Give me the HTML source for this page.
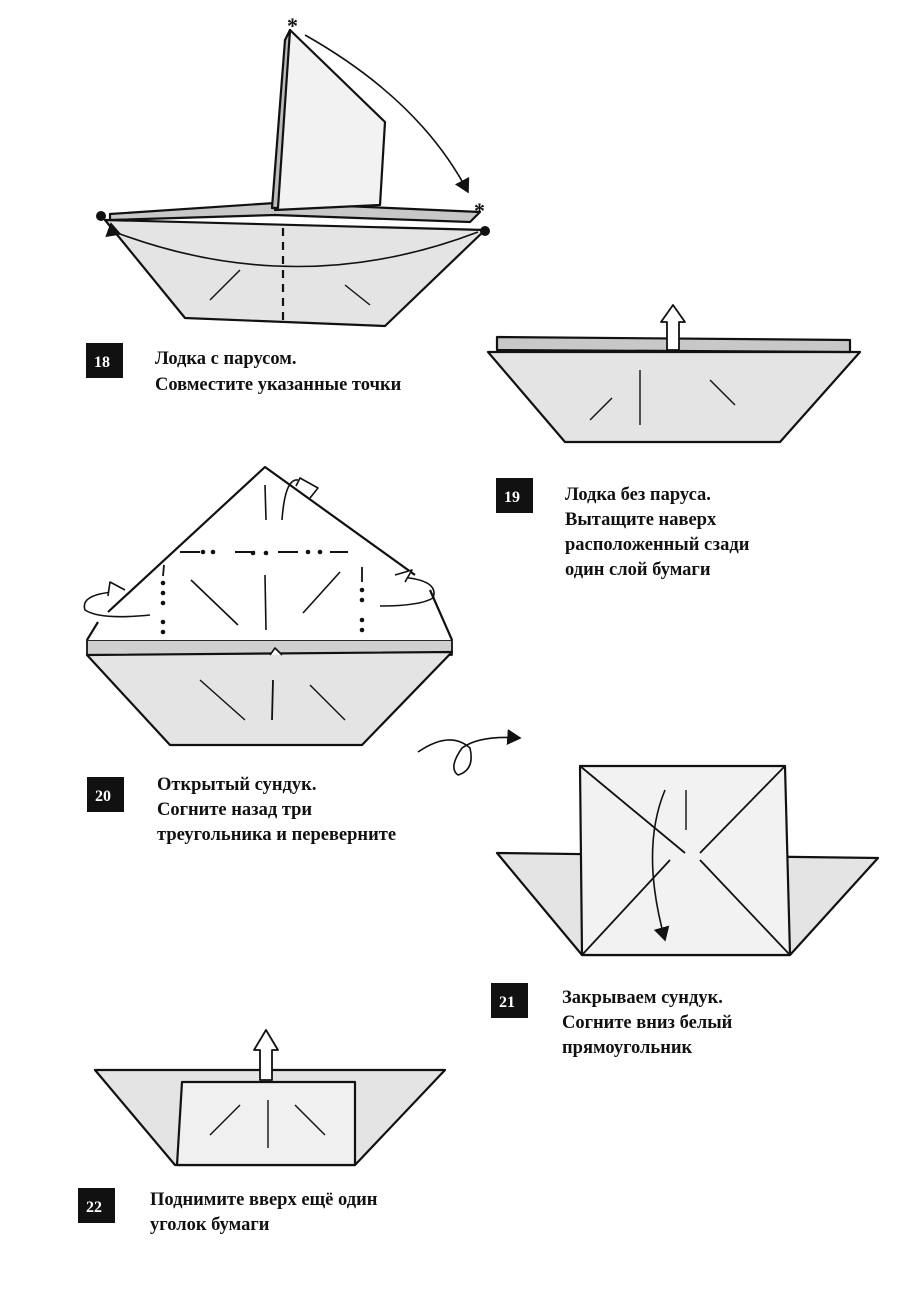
<!DOCTYPE html>
<html><head><meta charset="utf-8"><style>
html,body{margin:0;padding:0;background:#fff;}
svg{display:block}
text{font-family:"Liberation Serif",serif;font-size:18.5px;font-weight:bold;fill:#111;}
.n{fill:#fff;font-weight:bold;font-size:16px;}
</style></head><body>
<svg width="900" height="1308" viewBox="0 0 900 1308" xmlns="http://www.w3.org/2000/svg">
<defs>
<marker id="ah" markerWidth="10" markerHeight="10" refX="8" refY="5" orient="auto"><path d="M0,0 L9,5 L0,10 Z" fill="#111"/></marker>
</defs>
<g stroke="#111" stroke-width="2.2" fill="#e4e4e4" stroke-linejoin="round">
<!-- Fig 18 -->
<polygon points="105,220 485,230 385,326 185,318"/>
<polygon points="110,214 275,203 480,212 470,222 275,215 110,220" fill="#c8c8c8"/>
<polygon points="290,30 385,122 380,205 275,210" fill="#f2f2f2"/>
<polygon points="290,30 285,40 272,208 278,208" fill="#bbb"/>
<line x1="283" y1="228" x2="283" y2="325" stroke-dasharray="8,6" fill="none"/>
<path d="M120,234 Q300,300 478,232" fill="none" stroke-width="1.6" marker-start="url(#ah)"/>
<path d="M305,35 Q420,100 468,192" fill="none" stroke-width="1.6" marker-end="url(#ah)"/>
<line x1="210" y1="300" x2="240" y2="270" stroke-width="1.4"/>
<line x1="345" y1="285" x2="370" y2="305" stroke-width="1.4"/>
<!-- Fig 19 -->
<polygon points="488,352 860,352 780,442 565,442"/>
<polygon points="497,337 850,340 850,352 497,350" fill="#c8c8c8"/>
<line x1="640" y1="370" x2="640" y2="425" stroke-width="1.4"/>
<line x1="590" y1="420" x2="612" y2="398" stroke-width="1.4"/>
<line x1="710" y1="380" x2="735" y2="405" stroke-width="1.4"/>
<polygon points="667,350 667,322 661,322 673,305 685,322 679,322 679,350" fill="#fff" stroke-width="1.8"/>
<!-- Fig 20 -->
<polygon points="87,640 452,640 452,655 87,655" fill="#d0d0d0" stroke-width="1.8"/>
<polygon points="265,467 450,600 452,640 87,640 108,612" fill="#fff" stroke="none"/>
<polyline points="108,612 265,467 415,575" fill="none"/>
<line x1="430" y1="590" x2="452" y2="640"/>
<line x1="98" y1="622" x2="87" y2="640"/>
<polygon points="87,655 452,652 362,745 170,745"/>
<path d="M270,655 L275,648 L282,655" fill="#fff" stroke-width="1.6"/>
<path d="M180,552 H200 M235,552 H255 M278,552 H298 M330,552 H348" fill="none" stroke-width="2"/>
<g fill="#111" stroke="none">
<circle cx="203" cy="552" r="2.3"/><circle cx="213" cy="552" r="2.3"/>
<circle cx="253" cy="553" r="2.3"/><circle cx="266" cy="553" r="2.3"/>
<circle cx="308" cy="552" r="2.3"/><circle cx="320" cy="552" r="2.3"/>
<circle cx="163" cy="583" r="2.3"/><circle cx="163" cy="593" r="2.3"/><circle cx="163" cy="603" r="2.3"/><circle cx="163" cy="622" r="2.3"/><circle cx="163" cy="632" r="2.3"/>
<circle cx="362" cy="590" r="2.3"/><circle cx="362" cy="600" r="2.3"/><circle cx="362" cy="620" r="2.3"/><circle cx="362" cy="630" r="2.3"/>
</g>
<line x1="164" y1="565" x2="163" y2="576" stroke-width="1.8"/>
<line x1="362" y1="567" x2="362" y2="582" stroke-width="1.8"/>
<line x1="265" y1="485" x2="266" y2="520" stroke-width="1.6"/>
<line x1="265" y1="575" x2="266" y2="630" stroke-width="1.6"/>
<line x1="191" y1="580" x2="238" y2="625" stroke-width="1.6"/>
<line x1="340" y1="572" x2="303" y2="613" stroke-width="1.6"/>
<line x1="245" y1="720" x2="200" y2="680" stroke-width="1.4"/>
<line x1="273" y1="680" x2="272" y2="720" stroke-width="1.8"/>
<line x1="310" y1="685" x2="345" y2="720" stroke-width="1.4"/>
<path d="M113,592 Q80,595 85,610 Q100,620 150,615" fill="none" stroke-width="1.6"/>
<path d="M108,596 L110,582 L125,590" fill="#fff" stroke-width="1.6"/>
<path d="M400,577 Q440,580 433,598 Q420,606 380,606" fill="none" stroke-width="1.6"/>
<path d="M395,575 L412,570 L405,582" fill="#fff" stroke-width="1.6"/>
<path d="M282,520 Q285,478 298,480" fill="none" stroke-width="1.6"/>
<path d="M296,486 L300,478 L318,488 L310,498" fill="#fff" stroke-width="1.6"/>
<path d="M418,752 Q450,730 470,748 Q475,770 458,775 Q448,768 462,748 Q480,735 520,738" fill="none" stroke-width="1.6" marker-end="url(#ah)"/>
<!-- Fig 21 -->
<polygon points="497,853 878,858 790,955 582,955"/>
<polygon points="580,766 785,766 790,955 582,955" fill="#f2f2f2"/>
<line x1="580" y1="766" x2="685" y2="853" stroke-width="1.8"/>
<line x1="785" y1="766" x2="700" y2="853" stroke-width="1.8"/>
<line x1="582" y1="955" x2="670" y2="860" stroke-width="1.8"/>
<line x1="790" y1="955" x2="700" y2="860" stroke-width="1.8"/>
<line x1="686" y1="790" x2="686" y2="830" stroke-width="1.4"/>
<path d="M665,790 Q640,850 665,940" fill="none" stroke-width="1.6" marker-end="url(#ah)"/>
<!-- Fig 22 -->
<polygon points="95,1070 445,1070 355,1165 175,1165"/>
<polygon points="182,1082 355,1082 355,1165 177,1165" fill="#f0f0f0"/>
<line x1="268" y1="1100" x2="268" y2="1148" stroke-width="1.4"/>
<line x1="210" y1="1135" x2="240" y2="1105" stroke-width="1.4"/>
<line x1="295" y1="1105" x2="325" y2="1135" stroke-width="1.4"/>
<polygon points="260,1080 260,1050 254,1050 266,1030 278,1050 272,1050 272,1080" fill="#fff" stroke-width="1.8"/>
</g>
<g fill="#111">
<circle cx="101" cy="216" r="5"/><circle cx="485" cy="231" r="5"/>
</g>
<text x="287" y="33" style="font-size:22px;font-weight:bold">*</text>
<text x="474" y="218" style="font-size:22px;font-weight:bold">*</text>
<!-- labels -->
<rect x="86" y="343" width="37" height="35" fill="#111"/><text class="n" x="94" y="367">18</text>
<text x="155" y="364">Лодка с парусом.</text>
<text x="155" y="390">Совместите указанные точки</text>
<rect x="496" y="478" width="37" height="35" fill="#111"/><text class="n" x="504" y="502">19</text>
<text x="565" y="500">Лодка без паруса.</text>
<text x="565" y="525">Вытащите наверх</text>
<text x="565" y="550">расположенный сзади</text>
<text x="565" y="575">один слой бумаги</text>
<rect x="87" y="777" width="37" height="35" fill="#111"/><text class="n" x="95" y="801">20</text>
<text x="157" y="790">Открытый сундук.</text>
<text x="157" y="815">Согните назад три</text>
<text x="157" y="840">треугольника и переверните</text>
<rect x="491" y="983" width="37" height="35" fill="#111"/><text class="n" x="499" y="1007">21</text>
<text x="562" y="1003">Закрываем сундук.</text>
<text x="562" y="1028">Согните вниз белый</text>
<text x="562" y="1053">прямоугольник</text>
<rect x="78" y="1188" width="37" height="35" fill="#111"/><text class="n" x="86" y="1212">22</text>
<text x="150" y="1205">Поднимите вверх ещё один</text>
<text x="150" y="1230">уголок бумаги</text>
</svg>
</body></html>
